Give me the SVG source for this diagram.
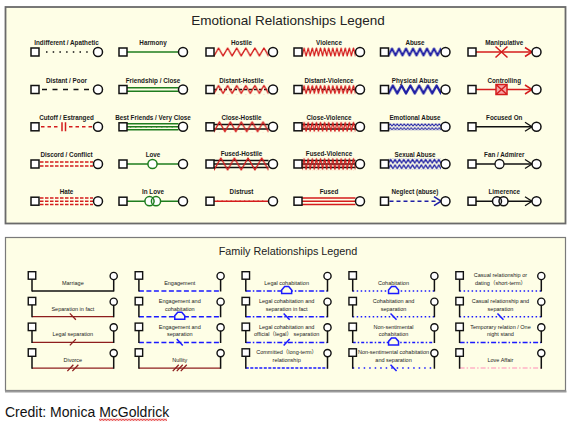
<svg xmlns="http://www.w3.org/2000/svg" xmlns:xlink="http://www.w3.org/1999/xlink" width="576" height="425" viewBox="0 0 576 425">
<style>
.el{font:bold 6.3px "Liberation Sans",Arial,sans-serif;fill:#1a1a1a;text-anchor:middle}
.fl{font:5.5px "Liberation Sans",Arial,"Noto Sans CJK SC",sans-serif;fill:#222;text-anchor:middle}
.tt{font-family:"Liberation Sans",Arial,sans-serif;fill:#222;text-anchor:middle}
.k{stroke:#111;stroke-width:1.5;fill:none}
.g{stroke:#1e7d1e;stroke-width:1.5;fill:none}
.r{stroke:#d41c1c;stroke-width:1.5;fill:none}
.b{stroke:#1f1fa5;stroke-width:1.6;fill:none}
.dr{stroke:#8e1e1e;stroke-width:1.3;fill:none}
.bl{stroke:#1a1aff;stroke-width:1.5;fill:none}
.pk{stroke:#ffb3c6;stroke-width:1.5;fill:none}
.zz{fill:none;stroke-linejoin:round;stroke-linecap:round}
</style>
<defs>
<rect id="es" x="0" y="-4" width="8" height="8" fill="#fff" stroke="#111" stroke-width="1.5"/>
<circle id="ec" r="4.5" fill="#fff" stroke="#111" stroke-width="1.5"/>
<path id="ar" d="M-7,-4.5 L0,0 L-7,4.5" fill="none"/>
<path id="house" d="M-5,2.5 V-1 L-2,-4.5 H2 L5,-1 V2.5 Z" fill="#fefee6"/>
<g id="fp">
<path d="M0,-12 V0.6 M81.7,-11.4 V0.6" stroke="#111" stroke-width="1.5"/>
<rect x="-3.75" y="-19.3" width="7.5" height="7.5" fill="#fff" stroke="#111" stroke-width="1.4"/>
<circle cx="81.7" cy="-15" r="3.6" fill="#fff" stroke="#111" stroke-width="1.4"/>
</g>
<pattern id="zH" x="8" y="-5" width="9.083" height="10" patternUnits="userSpaceOnUse"><path class="zz" d="M-4.54,1 L0,9 L4.54,1 L9.08,9 L13.62,1" stroke="#d41c1c" stroke-width="1.4"/></pattern>
<pattern id="zCH" x="8" y="-6" width="10.9" height="12" patternUnits="userSpaceOnUse"><path class="zz" d="M-5.45,1 L0,11 L5.45,1 L10.9,11 L16.35,1" stroke="#d41c1c" stroke-width="1.4"/></pattern>
<pattern id="zFH" x="8" y="-7" width="13.625" height="14" patternUnits="userSpaceOnUse"><path class="zz" d="M-6.81,1 L0,13 L6.81,1 L13.625,13 L20.4,1" stroke="#d41c1c" stroke-width="1.4"/></pattern>
<pattern id="zV" x="8" y="-5" width="4.115" height="10" patternUnits="userSpaceOnUse"><path class="zz" d="M-2.06,1 L0,9 L2.06,1 L4.115,9 L6.17,1" stroke="#d41c1c" stroke-width="1.2"/></pattern>
<pattern id="zCV" x="8" y="-5.5" width="4.115" height="11" patternUnits="userSpaceOnUse"><path class="zz" d="M-2.06,1 L0,10 L2.06,1 L4.115,10 L6.17,1" stroke="#d41c1c" stroke-width="1.2"/></pattern>
<pattern id="zFV" x="8" y="-6.5" width="4.115" height="13" patternUnits="userSpaceOnUse"><path class="zz" d="M-2.06,1 L0,12 L2.06,1 L4.115,12 L6.17,1" stroke="#d41c1c" stroke-width="1.2"/></pattern>
<pattern id="zA" x="8" y="-5" width="7" height="10" patternUnits="userSpaceOnUse"><path class="zz" d="M-3.5,1.5 L0,8.5 L3.5,1.5 L7,8.5 L10.5,1.5" stroke="#1f1fa5" stroke-width="2"/></pattern>
<pattern id="zPA" x="8" y="-5.5" width="8.75" height="11" patternUnits="userSpaceOnUse"><path class="zz" d="M-4.375,1.5 L0,9.5 L4.375,1.5 L8.75,9.5 L13.1,1.5" stroke="#1f1fa5" stroke-width="2.3"/></pattern>
<pattern id="zE" x="8" y="-3.6" width="3.5" height="7.2" patternUnits="userSpaceOnUse"><path class="zz" d="M-1.75,0.6 L0,2.8 L1.75,0.6 L3.5,2.8 L5.25,0.6 M-1.75,4.4 L0,6.6 L1.75,4.4 L3.5,6.6 L5.25,4.4" stroke="#1f1fa5" stroke-width="1"/></pattern>
<pattern id="zS" x="8" y="-5.5" width="4.375" height="11" patternUnits="userSpaceOnUse"><path class="zz" d="M-2.19,0.8 L0,4.6 L2.19,0.8 L4.375,4.6 L6.56,0.8 M-2.19,6.4 L0,10.2 L2.19,6.4 L4.375,10.2 L6.56,6.4" stroke="#1f1fa5" stroke-width="1.3"/></pattern>
<pattern id="squig" x="99" y="418.5" width="3" height="2.6" patternUnits="userSpaceOnUse"><path class="zz" d="M-1.5,2 L0,0.6 L1.5,2 L3,0.6 L4.5,2" stroke="#e02020" stroke-width="0.9"/></pattern>
</defs>
<rect width="576" height="425" fill="#fff"/>
<g id="panel-emotional">
<rect x="5.5" y="7" width="560" height="216.5" fill="#fefee6" stroke="#6a6a6a" stroke-width="1.8"/>
<text class="tt" x="288" y="25" font-size="13.5">Emotional Relationships Legend</text>
</g>
<g id="panel-family">
<rect x="5.5" y="237.5" width="560" height="153" fill="#fefee6" stroke="#7a7a7a" stroke-width="1.2"/>
<line x1="5" y1="391.5" x2="566.5" y2="391.5" stroke="#9a9a9a" stroke-width="2"/>
<text class="tt" x="288" y="255" font-size="10.8">Family Relationships Legend</text>
</g>
<g id="emotional-entries">
<!-- column 1 -->
<g id="e-indifferent" transform="translate(31,52)">
<line x1="15" x2="58" class="k" stroke-dasharray="1.5 5.2"/>
<use href="#es"/><use href="#ec" x="67"/>
<text class="el" x="35.5" y="-7">Indifferent / Apathetic</text>
</g>
<g id="e-distant" transform="translate(31,89.5)">
<line x1="11" x2="59" class="k" stroke-dasharray="5 5.5"/>
<use href="#es"/><use href="#ec" x="67"/>
<text class="el" x="35.5" y="-7">Distant / Poor</text>
</g>
<g id="e-cutoff" transform="translate(31,126.8)">
<line x1="10" x2="28" class="r" stroke-dasharray="3.5 3"/>
<line x1="38" x2="62" class="r" stroke-dasharray="3.5 3"/>
<path d="M31,-4.5 V4.5 M34.5,-4.5 V4.5" class="r" stroke-width="1.6"/>
<use href="#es"/><use href="#ec" x="67"/>
<text class="el" x="35.5" y="-7">Cutoff / Estranged</text>
</g>
<g id="e-discord" transform="translate(31,164)">
<path d="M9,-2 H62 M9,2 H62" class="r" stroke-width="1.6" stroke-dasharray="3.5 1.5"/>
<use href="#es"/><use href="#ec" x="67"/>
<text class="el" x="35.5" y="-7">Discord / Conflict</text>
</g>
<g id="e-hate" transform="translate(31,201.2)">
<path d="M9,-3.3 H62 M9,0 H62 M9,3.3 H62" class="r" stroke-width="1.5" stroke-dasharray="3.5 1.5"/>
<use href="#es"/><use href="#ec" x="67"/>
<text class="el" x="35.5" y="-7">Hate</text>
</g>
<!-- column 2 -->
<g id="e-harmony" transform="translate(119,52)">
<line x1="8" x2="59.5" class="g" stroke-width="1.6"/>
<use href="#es"/><use href="#ec" x="64"/>
<text class="el" x="34" y="-7">Harmony</text>
</g>
<g id="e-friendship" transform="translate(119,89.5)">
<path d="M8,-1.8 H59.5 M8,1.8 H59.5" class="g" stroke-width="1.4"/>
<use href="#es"/><use href="#ec" x="64"/>
<text class="el" x="34" y="-7">Friendship / Close</text>
</g>
<g id="e-bestfriends" transform="translate(119,126.8)">
<path d="M8,-3 H59.5 M8,0 H59.5 M8,3 H59.5" class="g" stroke-width="1.2"/>
<line x1="11" x2="58" class="g" stroke-width="9" stroke-dasharray="1.2 4"/>
<use href="#es"/><use href="#ec" x="64"/>
<text class="el" x="34" y="-7">Best Friends / Very Close</text>
</g>
<g id="e-love" transform="translate(119,164)">
<line x1="8" x2="59.5" class="g"/>
<circle cx="33.5" r="4.6" fill="#fff" class="g" style="fill:#fff"/>
<use href="#es"/><use href="#ec" x="64"/>
<text class="el" x="34" y="-7">Love</text>
</g>
<g id="e-inlove" transform="translate(119,201.2)">
<line x1="8" x2="59.5" class="g"/>
<circle cx="30.5" r="4.6" fill="#fff"/><circle cx="37" r="4.6" fill="#fff"/>
<circle cx="30.5" r="4.6" class="g"/><circle cx="37" r="4.6" class="g"/>
<use href="#es"/><use href="#ec" x="64"/>
<text class="el" x="34" y="-7">In Love</text>
</g>
<!-- column 3 -->
<g id="e-hostile" transform="translate(206,52)">
<rect x="8" y="-5" width="54.5" height="10" fill="url(#zH)"/>
<use href="#es"/><use href="#ec" x="67"/>
<text class="el" x="35.5" y="-7">Hostile</text>
</g>
<g id="e-distanthostile" transform="translate(206,89.5)">
<line x1="8" x2="62.5" class="k" stroke-width="1" stroke-dasharray="3 2"/>
<rect x="8" y="-5" width="54.5" height="10" fill="url(#zH)"/>
<use href="#es"/><use href="#ec" x="67"/>
<text class="el" x="35.5" y="-7">Distant-Hostile</text>
</g>
<g id="e-closehostile" transform="translate(206,126.8)">
<path d="M8,-2.3 H62.5 M8,2.3 H62.5" class="k" stroke-width="1.1"/>
<rect x="8" y="-6" width="54.5" height="12" fill="url(#zCH)"/>
<use href="#es"/><use href="#ec" x="67"/>
<text class="el" x="35.5" y="-7">Close-Hostile</text>
</g>
<g id="e-fusedhostile" transform="translate(206,164)">
<path d="M8,-3.5 H62.5 M8,0 H62.5 M8,3.5 H62.5" class="k" stroke-width="1.1"/>
<rect x="8" y="-7" width="54.5" height="14" fill="url(#zFH)"/>
<use href="#es"/><use href="#ec" x="67"/>
<text class="el" x="35.5" y="-8">Fused-Hostile</text>
</g>
<g id="e-distrust" transform="translate(206,201.2)">
<line x1="8" x2="62.5" class="r"/>
<line x1="11" x2="60" class="r" stroke-width="9.5" stroke-dasharray="1.3 3.2"/>
<use href="#es"/><use href="#ec" x="67"/>
<text class="el" x="35.5" y="-7">Distrust</text>
</g>
<!-- column 4 -->
<g id="e-violence" transform="translate(294,52)">
<rect x="8" y="-5" width="53.5" height="10" fill="url(#zV)"/>
<use href="#es"/><use href="#ec" x="66"/>
<text class="el" x="35" y="-7">Violence</text>
</g>
<g id="e-distantviolence" transform="translate(294,89.5)">
<line x1="8" x2="61.5" class="k" stroke-width="1" stroke-dasharray="3 2"/>
<rect x="8" y="-5" width="53.5" height="10" fill="url(#zV)"/>
<use href="#es"/><use href="#ec" x="66"/>
<text class="el" x="35" y="-7">Distant-Violence</text>
</g>
<g id="e-closeviolence" transform="translate(294,126.8)">
<path d="M8,-2.3 H61.5 M8,2.3 H61.5" class="k" stroke-width="1.1"/>
<rect x="8" y="-5.5" width="53.5" height="11" fill="url(#zCV)"/>
<use href="#es"/><use href="#ec" x="66"/>
<text class="el" x="35" y="-7">Close-Violence</text>
</g>
<g id="e-fusedviolence" transform="translate(294,164)">
<path d="M8,-3.5 H61.5 M8,0 H61.5 M8,3.5 H61.5" class="k" stroke-width="1.1"/>
<rect x="8" y="-6.5" width="53.5" height="13" fill="url(#zFV)"/>
<use href="#es"/><use href="#ec" x="66"/>
<text class="el" x="35" y="-8">Fused-Violence</text>
</g>
<g id="e-fused" transform="translate(294,201.2)">
<path d="M8,-3.2 H61.5 M8,0 H61.5 M8,3.2 H61.5" class="r" stroke-width="1.6"/>
<use href="#es"/><use href="#ec" x="66"/>
<text class="el" x="35" y="-7">Fused</text>
</g>
<!-- column 5 -->
<g id="e-abuse" transform="translate(380.5,52)">
<rect x="8" y="-5" width="52.5" height="10" fill="url(#zA)"/>
<use href="#es"/><use href="#ec" x="65"/>
<text class="el" x="34.5" y="-7">Abuse</text>
</g>
<g id="e-physicalabuse" transform="translate(380.5,89.5)">
<rect x="8" y="-5.5" width="52.5" height="11" fill="url(#zPA)"/>
<use href="#es"/><use href="#ec" x="65"/>
<text class="el" x="34.5" y="-7">Physical Abuse</text>
</g>
<g id="e-emotionalabuse" transform="translate(380.5,126.8)">
<rect x="8" y="-3.6" width="52.5" height="7.2" fill="url(#zE)"/>
<use href="#es"/><use href="#ec" x="65"/>
<text class="el" x="34.5" y="-7">Emotional Abuse</text>
</g>
<g id="e-sexualabuse" transform="translate(380.5,164)">
<rect x="8" y="-5.5" width="52.5" height="11" fill="url(#zS)"/>
<use href="#es"/><use href="#ec" x="65"/>
<text class="el" x="34.5" y="-7">Sexual Abuse</text>
</g>
<g id="e-neglect" transform="translate(380.5,201.2)">
<line x1="9" x2="57" class="b" stroke-dasharray="4 3"/>
<use href="#ar" x="60.5" class="b"/>
<use href="#es"/><use href="#ec" x="65"/>
<text class="el" x="34.5" y="-7">Neglect (abuse)</text>
</g>
<!-- column 6 -->
<g id="e-manipulative" transform="translate(468,52)">
<line x1="8" x2="64" class="r" stroke-width="1.6"/>
<path d="M27.5,-5.5 L39.5,5.5 M27.5,5.5 L39.5,-5.5" class="r" stroke-width="1.8"/>
<use href="#ar" x="64" class="r"/>
<use href="#es"/><use href="#ec" x="68.5"/>
<text class="el" x="36.25" y="-7">Manipulative</text>
</g>
<g id="e-controlling" transform="translate(468,89.5)">
<line x1="8" x2="64" class="r" stroke-width="1.6"/>
<rect x="28" y="-5" width="11" height="10" fill="#f6a5a5" stroke="#d41c1c" stroke-width="1.5"/>
<path d="M28,-5 L39,5 M28,5 L39,-5" class="r" stroke-width="1.3"/>
<use href="#ar" x="64" class="r"/>
<use href="#es"/><use href="#ec" x="68.5"/>
<text class="el" x="36.25" y="-7">Controlling</text>
</g>
<g id="e-focusedon" transform="translate(468,126.8)">
<line x1="8" x2="64" class="k" stroke-width="1.3"/>
<use href="#ar" x="64" class="k" style="stroke-width:1.3"/>
<use href="#es"/><use href="#ec" x="68.5"/>
<text class="el" x="36.25" y="-7">Focused On</text>
</g>
<g id="e-fan" transform="translate(468,164)">
<line x1="8" x2="64" class="k" stroke-width="1.3"/>
<circle cx="31.5" r="4.5" fill="#fff" stroke="#111" stroke-width="1.3"/>
<use href="#ar" x="64" class="k" style="stroke-width:1.3"/>
<use href="#es"/><use href="#ec" x="68.5"/>
<text class="el" x="36.25" y="-7">Fan / Admirer</text>
</g>
<g id="e-limerence" transform="translate(468,201.2)">
<line x1="8" x2="64" class="k" stroke-width="1.3"/>
<circle cx="29" r="4.5" fill="#fff"/><circle cx="35.5" r="4.5" fill="#fff"/>
<circle cx="29" r="4.5" class="k" stroke-width="1.3"/><circle cx="35.5" r="4.5" class="k" stroke-width="1.3"/>
<use href="#ar" x="64" class="k" style="stroke-width:1.3"/>
<use href="#es"/><use href="#ec" x="68.5"/>
<text class="el" x="36.25" y="-7">Limerence</text>
</g>
</g>
<g id="family-entries">
<!-- column 1 -->
<g id="f-marriage" transform="translate(32,291)">
<line x2="81.7" class="k" stroke-width="1.3"/><use href="#fp"/>
<text class="fl" x="40.85" y="-6">Marriage</text>
</g>
<g id="f-separation" transform="translate(32,316.7)">
<line x2="81.7" class="dr"/><path d="M37.85,-3.3 L43.85,3" class="dr" stroke-width="1.4"/><use href="#fp"/>
<text class="fl" x="40.85" y="-6">Separation in fact</text>
</g>
<g id="f-legalseparation" transform="translate(32,342.4)">
<line x2="81.7" class="dr"/><path d="M37.85,3 L43.85,-3.3" class="dr" stroke-width="1.4"/><use href="#fp"/>
<text class="fl" x="40.85" y="-6">Legal separation</text>
</g>
<g id="f-divorce" transform="translate(32,368.1)">
<line x2="81.7" class="dr"/><path d="M35.35,3 L41.35,-3.3 M40.35,3 L46.35,-3.3" class="dr" stroke-width="1.4"/><use href="#fp"/>
<text class="fl" x="40.85" y="-6">Divorce</text>
</g>
<!-- column 2 -->
<g id="f-engagement" transform="translate(138.9,291)">
<line x2="81.7" class="bl" stroke-dasharray="5 2.5"/><use href="#fp"/>
<text class="fl" x="40.85" y="-6">Engagement</text>
</g>
<g id="f-engagementcohab" transform="translate(138.9,316.7)">
<line x2="81.7" class="bl" stroke-dasharray="5 2.5"/><use href="#house" x="40.85" class="bl" style="fill:#fefee6"/><use href="#fp"/>
<text class="fl" x="40.85" y="-13.8">Engagement and</text><text class="fl" x="40.85" y="-6">cohabitation</text>
</g>
<g id="f-engagementsep" transform="translate(138.9,342.4)">
<line x2="81.7" class="bl" stroke-dasharray="5 2.5"/><path d="M37.85,-3.3 L43.85,3" class="bl"/><use href="#fp"/>
<text class="fl" x="40.85" y="-13.8">Engagement and</text><text class="fl" x="40.85" y="-6">separation</text>
</g>
<g id="f-nullity" transform="translate(138.9,368.1)">
<line x2="81.7" class="dr"/><path d="M33.85,3 L39.85,-3.3 M37.85,3 L43.85,-3.3 M41.85,3 L47.85,-3.3" class="dr" stroke-width="1.4"/><use href="#fp"/>
<text class="fl" x="40.85" y="-6">Nullity</text>
</g>
<!-- column 3 -->
<g id="f-legalcohab" transform="translate(245.8,291)">
<line x2="81.7" class="bl" stroke-dasharray="5 2 1.5 2"/><use href="#house" x="40.85" class="bl" style="fill:#fefee6"/><use href="#fp"/>
<text class="fl" x="40.85" y="-6">Legal cohabitation</text>
</g>
<g id="f-legalcohabsepfact" transform="translate(245.8,316.7)">
<line x2="81.7" class="bl" stroke-dasharray="5 2 1.5 2"/><path d="M37.85,-3.3 L43.85,3" class="bl"/><use href="#fp"/>
<text class="fl" x="40.85" y="-13.8">Legal cohabitation and</text><text class="fl" x="40.85" y="-6">separation in fact</text>
</g>
<g id="f-legalcohabsep" transform="translate(245.8,342.4)">
<line x2="81.7" class="bl" stroke-dasharray="5 2 1.5 2"/><path d="M37.85,3 L43.85,-3.3" class="bl"/><use href="#fp"/>
<text class="fl" x="40.85" y="-13.8">Legal cohabitation and</text><text class="fl" x="40.85" y="-6">official（legal） separation</text>
</g>
<g id="f-committed" transform="translate(245.8,368.1)">
<line x2="81.7" class="bl" stroke-dasharray="3 1.5"/><use href="#fp"/>
<text class="fl" x="40.85" y="-13.8">Committed（long-term）</text><text class="fl" x="40.85" y="-6">relationship</text>
</g>
<!-- column 4 -->
<g id="f-cohab" transform="translate(352.7,291)">
<line x2="81.7" class="bl" stroke-dasharray="1.5 2.5"/><use href="#house" x="40.85" class="bl" style="fill:#fefee6"/><use href="#fp"/>
<text class="fl" x="40.85" y="-6">Cohabitation</text>
</g>
<g id="f-cohabsep" transform="translate(352.7,316.7)">
<line x2="81.7" class="bl" stroke-dasharray="1.5 2.5"/><path d="M37.85,-3.3 L43.85,3" class="bl"/><use href="#fp"/>
<text class="fl" x="40.85" y="-13.8">Cohabitation and</text><text class="fl" x="40.85" y="-6">separation</text>
</g>
<g id="f-nonsent" transform="translate(352.7,342.4)">
<line x2="81.7" class="bl" stroke-dasharray="3 2 1.5 2"/><use href="#house" x="40.85" class="bl" style="fill:#fefee6"/><use href="#fp"/>
<text class="fl" x="40.85" y="-13.8">Non-sentimental</text><text class="fl" x="40.85" y="-6">cohabitation</text>
</g>
<g id="f-nonsentsep" transform="translate(352.7,368.1)">
<line x2="81.7" class="bl" stroke-dasharray="1.5 4"/><path d="M37.85,-3.3 L43.85,3" class="bl"/><use href="#fp"/>
<text class="fl" x="40.85" y="-13.8">Non-sentimental cohabitation</text><text class="fl" x="40.85" y="-6">and separation</text>
</g>
<!-- column 5 -->
<g id="f-casual" transform="translate(459.6,291)">
<line x2="81.7" class="bl" stroke-dasharray="1.5 2.5"/><use href="#fp"/>
<text class="fl" x="40.85" y="-13.8">Casual relationship or</text><text class="fl" x="40.85" y="-6">dating（short-term）</text>
</g>
<g id="f-casualsep" transform="translate(459.6,316.7)">
<line x2="81.7" class="bl" stroke-dasharray="1.5 2.5"/><path d="M37.85,-3.3 L43.85,3" class="bl"/><use href="#fp"/>
<text class="fl" x="40.85" y="-13.8">Casual relationship and</text><text class="fl" x="40.85" y="-6">separation</text>
</g>
<g id="f-temporary" transform="translate(459.6,342.4)">
<line x2="81.7" class="bl" stroke-dasharray="5 2 1.5 2"/><use href="#fp"/>
<text class="fl" x="40.85" y="-13.8">Temporary relation / One</text><text class="fl" x="40.85" y="-6">night stand</text>
</g>
<g id="f-loveaffair" transform="translate(459.6,368.1)">
<line x2="81.7" class="pk" stroke-dasharray="5 2 1.5 2"/><use href="#fp"/>
<text class="fl" x="40.85" y="-6">Love Affair</text>
</g>
</g>
<g id="credit">
<text x="5" y="417" font-family="'Liberation Sans',Arial,sans-serif" font-size="14" fill="#111">Credit: Monica McGoldrick</text>
<rect x="99" y="418.5" width="68" height="2.6" fill="url(#squig)"/>
</g>
</svg>
